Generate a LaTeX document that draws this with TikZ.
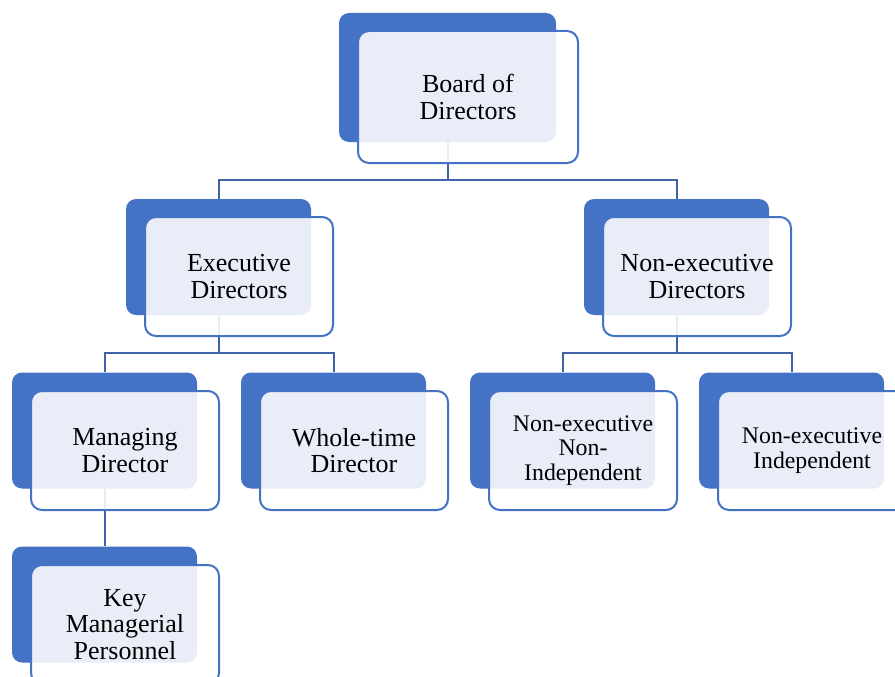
\documentclass[tikz,border=0pt]{standalone}
\usepackage{fontspec}
\setmainfont{Liberation Serif}
\definecolor{bkblue}{HTML}{4472C4}
\definecolor{lnblue}{HTML}{3E63A8}
\tikzset{
  back/.style={fill=bkblue, rounded corners=10pt, minimum width=185pt, minimum height=116pt, inner sep=0pt},
  front/.style={draw=bkblue, line width=2pt, fill=white, fill opacity=0.88, text opacity=1,
    rounded corners=11pt, minimum width=188pt, minimum height=119pt, inner sep=0pt, align=center,
    font=\fontsize{26}{26.5}\selectfont},
  small/.style={font=\fontsize{23.8}{24.6}\selectfont},
  conn/.style={draw=lnblue, line width=2pt},
}
\begin{document}
\begin{tikzpicture}[x=1pt,y=-1pt]
\useasboundingbox (0,0) rectangle (895,677);
% back rectangles
\node[back, minimum width=217pt, minimum height=129pt] (bTop) at (447.5,77.5) {};
\node[back] (bExec) at (218.5,257) {};
\node[back] (bNon)  at (676.5,257) {};
\node[back] (bMD)   at (104.5,430.5) {};
\node[back] (bWT)   at (333.5,430.5) {};
\node[back] (bNNI)  at (562.5,430.5) {};
\node[back] (bNI)   at (791.5,430.5) {};
\node[back] (bKMP)  at (104.5,604.5) {};
% connectors
\draw[conn] (bTop.south) -- ++(0,38) -| (bExec.north);
\draw[conn] (bTop.south) -- ++(0,38) -| (bNon.north);
\draw[conn] (bExec.south) -- ++(0,38) -| (bMD.north);
\draw[conn] (bExec.south) -- ++(0,38) -| (bWT.north);
\draw[conn] (bNon.south) -- ++(0,38) -| (bNNI.north);
\draw[conn] (bNon.south) -- ++(0,38) -| (bNI.north);
\draw[conn] (bMD.south) -- (bKMP.north);
% front boxes
\node[front, minimum width=220pt, minimum height=132pt] (fTop) at (468,97) {Board of\\Directors};
\node[front] (fExec) at (239,276.5) {Executive\\Directors};
\node[front] (fNon)  at (697,276.5) {Non-executive\\Directors};
\node[front] (fMD)   at (125,450.5) {Managing\\Director};
\node[front] (fWT)   at (354,450.5) {Whole-time\\Director};
\node[front, small] (fNNI) at (583,450.5) {Non-executive\\Non-\\Independent};
\node[front, small] (fNI)  at (812,450.5) {Non-executive\\Independent};
\node[front] (fKMP)  at (125,624.5) {Key\\Managerial\\Personnel};
\end{tikzpicture}
\end{document}
